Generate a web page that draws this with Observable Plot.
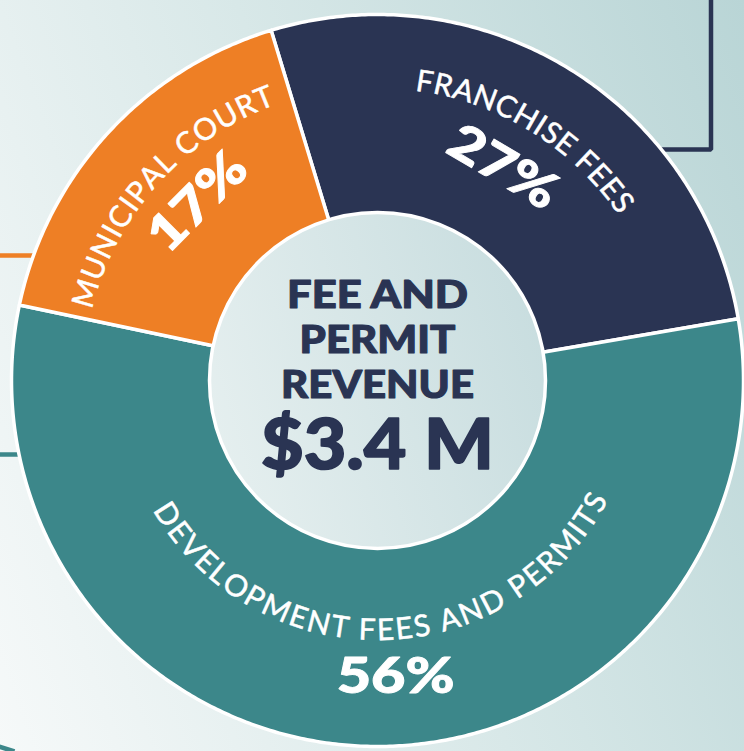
<!DOCTYPE html>
<html>
<head>
<meta charset="utf-8">
<script src="https://cdn.jsdelivr.net/npm/d3@7"></script>
<script src="https://cdn.jsdelivr.net/npm/@observablehq/plot@0.6"></script>
<style>
  html, body { margin: 0; padding: 0; background: #ffffff; }
  #chart svg { display: block; }
</style>
</head>
<body>
<div id="chart"></div>
<script>
// ---------------- data ----------------
const categories = ["Franchise Fees", "Development Fees and Permits", "Municipal Court"];
const labelTexts = ["FRANCHISE FEES", "DEVELOPMENT FEES AND PERMITS", "MUNICIPAL COURT"];
const shares = [27, 56, 17];
const shareLabels = ["27%", "56%", "17%"];
const colors = ["#2A3453", "#3C878A", "#EE7F25"];
const centerTitle = ["FEE AND", "PERMIT", "REVENUE"];
const centerValue = ["$3.4 M"];

// ---------------- layout ----------------
const W = 744, H = 751, CX = 377, CY = 380;
const R_OUT = 366, R_IN = 150, R_CENTER = 168;
const START_DEG = -16.9;
const DEG = Math.PI / 180;
const labelLayout = [
  {r: 302, span: 45, shift: -0.2, dir: 1, pr: 247, pshift: -1.2, upright: false},
  {r: 250, span: 118.3, shift: -2.75, dir: -1, pr: 297, pshift: -4.6, upright: true},
  {r: 304, span: 51.5, shift: -0.15, dir: 1, pr: 253, pshift: 2.3, upright: false}
];
const LABEL_FONT = 30, PCT_FONT = 50, TITLE_FONT = 38, VALUE_FONT = 70;

const arcs = d3.pie().sort(null).value(d => d)
  .startAngle(START_DEG * DEG).endAngle((START_DEG + 360) * DEG)(shares);

// slice polygons
const slicePts = [];
arcs.forEach((a, i) => {
  const a0 = a.startAngle, a1 = a.endAngle;
  const n = Math.ceil((a1 - a0) / (0.5 * DEG));
  const pts = [];
  for (let k = 0; k <= n; k++) { const t = a0 + (a1 - a0) * k / n; pts.push([R_OUT * Math.sin(t), R_OUT * Math.cos(t)]); }
  for (let k = n; k >= 0; k--) { const t = a0 + (a1 - a0) * k / n; pts.push([R_IN * Math.sin(t), R_IN * Math.cos(t)]); }
  pts.push(pts[0]);
  pts.forEach(([x, y]) => slicePts.push({cat: categories[i], x, y}));
});

// curved label glyphs
const ctx = document.createElement("canvas").getContext("2d");
ctx.font = `400 ${LABEL_FONT}px Lato`;
const glyphData = [];
arcs.forEach((a, i) => {
  const L = labelLayout[i];
  const mid = (a.startAngle + a.endAngle) / 2 / DEG + L.shift;
  const glyphs = [...labelTexts[i]];
  const w = glyphs.map(g => ctx.measureText(g).width);
  const centers = []; let s = 0;
  glyphs.forEach((g, k) => { centers.push(s + w[k] / 2); s += w[k]; });
  const n = glyphs.length;
  const natural = centers[n - 1] - centers[0];
  const targetArc = L.span * DEG * L.r;
  const extra = (targetArc - natural) / (n - 1);
  glyphs.forEach((g, k) => {
    if (g === " ") return;
    const pos = centers[k] - centers[0] + extra * k - targetArc / 2;
    const th = mid + L.dir * (pos / L.r) / DEG;
    glyphData.push({
      ch: g,
      x: L.r * Math.sin(th * DEG),
      y: L.r * Math.cos(th * DEG),
      rotate: L.dir === 1 ? th : th - 180
    });
  });
});

// percent labels
const pctData = arcs.map((a, i) => {
  const L = labelLayout[i];
  const th = (a.startAngle + a.endAngle) / 2 / DEG + L.pshift;
  return {
    text: shareLabels[i],
    x: L.pr * Math.sin(th * DEG),
    y: L.pr * Math.cos(th * DEG),
    rotate: L.upright ? 0 : th
  };
});

// connector lines (decorative leaders toward other parts of the page)
function ringX(y, side) { return side * Math.sqrt((R_OUT - 8) ** 2 - y * y); }
const connectorPts = [
  {id: 0, cat: categories[0], x: ringX(CY - 149, 1), y: CY - 149},
  {id: 0, cat: categories[0], x: 710.5 - CX, y: CY - 149},
  {id: 0, cat: categories[0], x: 710.5 - CX, y: CY + 5},
  {id: 1, cat: categories[2], x: ringX(CY - 255, -1), y: CY - 255},
  {id: 1, cat: categories[2], x: -CX - 5, y: CY - 255},
  {id: 2, cat: categories[1], x: ringX(CY - 454, -1), y: CY - 454},
  {id: 2, cat: categories[1], x: -CX - 5, y: CY - 454},
  {id: 3, cat: categories[1], x: -CX - 5, y: CY - 745},
  {id: 3, cat: categories[1], x: -CX + 14, y: CY - 751}
];

// center text rows
const titleRows = centerTitle.map((t, k) => ({text: t, x: 0, y: CY - 295.5 - 45 * k}));
const valueRows = centerValue.map(t => ({text: t, x: 0, y: CY - 446}));

// widen glyphs (textLength) to mimic the wide heavy typeface of the original
function textW(t, font) { ctx.font = font; return ctx.measureText(t).width; }
const titleFontStr = `900 ${TITLE_FONT}px Lato`;
const titleSX = 193 / textW("REVENUE", titleFontStr);
const titleLens = centerTitle.map(t => textW(t, titleFontStr) * titleSX + (t.includes(" ") ? 5 : 0));
const valueLens = centerValue.map(() => 233);
const pctFontStr = `900 ${PCT_FONT}px Lato`;
const pctSX = 118 / textW("56%", pctFontStr);
const pctLens = shareLabels.map(t => textW(t, pctFontStr) * pctSX);

const defsMark = () => {
  const defs = d3.create("svg:defs");
  const g = defs.append("linearGradient").attr("id", "centerGrad")
    .attr("x1", "0").attr("y1", "0.65").attr("x2", "1").attr("y2", "0.35");
  g.append("stop").attr("offset", "0").attr("stop-color", "#E5EFEF");
  g.append("stop").attr("offset", "1").attr("stop-color", "#C8DDDF");
  return defs.node();
};

const chart = Plot.plot({
  width: W, height: H, margin: 0,
  x: {domain: [-CX, W - CX], axis: null},
  y: {domain: [CY - H, CY], axis: null},
  color: {domain: categories, range: colors},
  style: {
    background: "linear-gradient(70deg, #F6F9F9 0%, #D8E8E8 50%, #B9D5D6 100%)",
    overflow: "visible"
  },
  marks: [
    defsMark,
    Plot.line(connectorPts, {x: "x", y: "y", z: "id", stroke: "cat", strokeWidth: 4.5, strokeLinejoin: "miter", strokeLinecap: "butt"}),
    Plot.line(slicePts, {x: "x", y: "y", z: "cat", fill: "cat", stroke: "white", strokeWidth: 3.5, strokeLinejoin: "round"}),
    Plot.dot([{x: 0, y: 0}], {x: "x", y: "y", r: R_CENTER, fill: "url(#centerGrad)", stroke: "white", strokeWidth: 3.5}),
    Plot.text(glyphData, {x: "x", y: "y", text: "ch", rotate: "rotate", fill: "white",
      stroke: "white", strokeWidth: 0.5,
      fontSize: LABEL_FONT, fontFamily: "Lato", fontWeight: 400, textAnchor: "middle", lineAnchor: "middle"}),
    Plot.text(pctData, {x: "x", y: "y", text: "text", rotate: "rotate", fill: "white",
      stroke: "white", strokeWidth: 0.9, strokeLinejoin: "round",
      fontSize: PCT_FONT, fontFamily: "Lato", fontWeight: 900, textAnchor: "middle", lineAnchor: "middle",
      ariaDescription: "pct"}),
    Plot.text(titleRows, {x: "x", y: "y", text: "text", fill: "#2A3453",
      stroke: "#2A3453", strokeWidth: 1.1, strokeLinejoin: "round",
      fontSize: TITLE_FONT, fontFamily: "Lato", fontWeight: 900, textAnchor: "middle", lineAnchor: "middle",
      ariaDescription: "title"}),
    Plot.text(valueRows, {x: "x", y: "y", text: "text", fill: "#2A3453",
      stroke: "#2A3453", strokeWidth: 1.6, strokeLinejoin: "round",
      fontSize: VALUE_FONT, fontFamily: "Lato", fontWeight: 900, textAnchor: "middle", lineAnchor: "middle",
      ariaDescription: "value"})
  ]
});

function widen(selector, lens) {
  d3.select(chart).selectAll(selector).each(function(_, i) {
    if (lens[i] > 0 && isFinite(lens[i])) {
      this.setAttribute("textLength", lens[i].toFixed(1));
      this.setAttribute("lengthAdjust", "spacingAndGlyphs");
    }
  });
}
widen('g[aria-description="title"] text', titleLens);
widen('g[aria-description="value"] text', valueLens);
widen('g[aria-description="pct"] text', pctLens);

document.getElementById("chart").appendChild(chart);
</script>
</body>
</html>
